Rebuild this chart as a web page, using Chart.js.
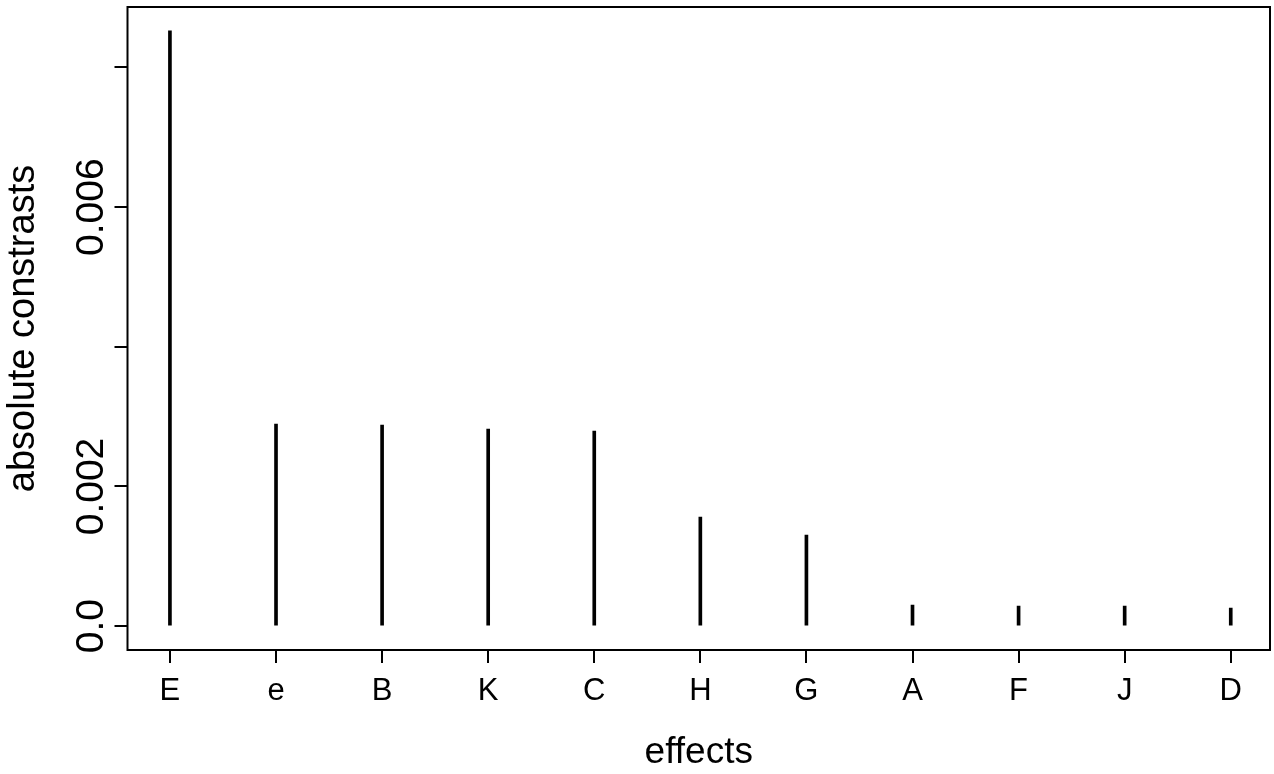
<!DOCTYPE html>
<html>
<head>
<meta charset="utf-8">
<script src="https://cdn.jsdelivr.net/npm/chart.js"></script>
<style>
  html, body { margin: 0; padding: 0; background: #fff; }
  canvas { display: block; }
</style>
</head>
<body>
<canvas id="grafica" width="1274" height="774" style="width:1274px;height:774px"></canvas>
<script>
// datos
const efectos = ['E', 'e', 'B', 'K', 'C', 'H', 'G', 'A', 'F', 'J', 'D'];
const contrastes = [0.008524, 0.002894, 0.002880, 0.002822, 0.002794, 0.001562, 0.001304, 0.000301, 0.000287, 0.000287, 0.000258];
const yTickValues = [0, 0.002, 0.004, 0.006, 0.008];
const yTickLabels = ['0.0', '0.002', '', '0.006', ''];

const FUENTE = '"Liberation Sans", Arial, Helvetica, sans-serif';

// caja alrededor del area de trazado (estilo R)
const cajaPlugin = {
  id: 'caja',
  afterDraw(chart) {
    const {ctx, chartArea: {left, top, right, bottom}} = chart;
    ctx.save();
    ctx.strokeStyle = '#000';
    ctx.lineWidth = 2;
    ctx.strokeRect(left, top, right - left, bottom - top);
    ctx.restore();
  }
};

// etiquetas del eje y giradas 90 grados
const etiquetasY = {
  id: 'etiquetasY',
  afterDraw(chart) {
    const {ctx} = chart;
    const y = chart.scales.y;
    ctx.save();
    ctx.fillStyle = '#000';
    ctx.font = '39px ' + FUENTE;
    ctx.textAlign = 'center';
    ctx.textBaseline = 'alphabetic';
    yTickValues.forEach((v, i) => {
      if (!yTickLabels[i]) return;
      const py = y.getPixelForValue(v);
      ctx.save();
      ctx.translate(103, py);
      ctx.rotate(-Math.PI / 2);
      ctx.fillText(yTickLabels[i], 0, 0);
      ctx.restore();
    });
    ctx.restore();
  }
};

new Chart(document.getElementById('grafica'), {
  type: 'bar',
  data: {
    datasets: [{
      data: efectos.map((e, i) => ({x: i + 1, y: contrastes[i]})),
      backgroundColor: '#000',
      borderWidth: 0,
      barThickness: 3
    }]
  },
  options: {
    responsive: false,
    animation: false,
    devicePixelRatio: 1,
    layout: { padding: { top: 7, right: 4, bottom: 0, left: 0 } },
    plugins: {
      legend: { display: false },
      tooltip: { enabled: false }
    },
    scales: {
      x: {
        type: 'linear',
        offset: false,
        min: 0.6,
        max: 11.37,
        afterBuildTicks: (s) => { s.ticks = efectos.map((e, i) => ({value: i + 1})); },
        afterFit: (s) => { s.height = 124; },
        grid: { offset: false, drawOnChartArea: false, drawTicks: true, tickLength: 13, color: '#000', lineWidth: 2 },
        border: { display: false },
        ticks: {
          autoSkip: false,
          maxRotation: 0,
          padding: 10,
          color: '#000',
          font: { family: FUENTE, size: 31 },
          callback: (v) => efectos[v - 1]
        },
        title: {
          display: true,
          text: 'effects',
          color: '#000',
          font: { family: FUENTE, size: 37, lineHeight: 1.15 },
          padding: { top: 0, bottom: 0 }
        }
      },
      y: {
        min: -0.000341,
        max: 0.008865,
        afterBuildTicks: (s) => { s.ticks = yTickValues.map(v => ({value: v})); },
        afterFit: (s) => { s.width = 127.5; },
        grid: { drawOnChartArea: false, drawTicks: true, tickLength: 13, color: '#000', lineWidth: 2 },
        border: { display: false },
        ticks: { display: false },
        title: {
          display: true,
          text: 'absolute constrasts',
          color: '#000',
          font: { family: FUENTE, size: 38, lineHeight: 1.2 },
          padding: { top: 1, bottom: 0 }
        }
      }
    }
  },
  plugins: [cajaPlugin, etiquetasY]
});
</script>
</body>
</html>
